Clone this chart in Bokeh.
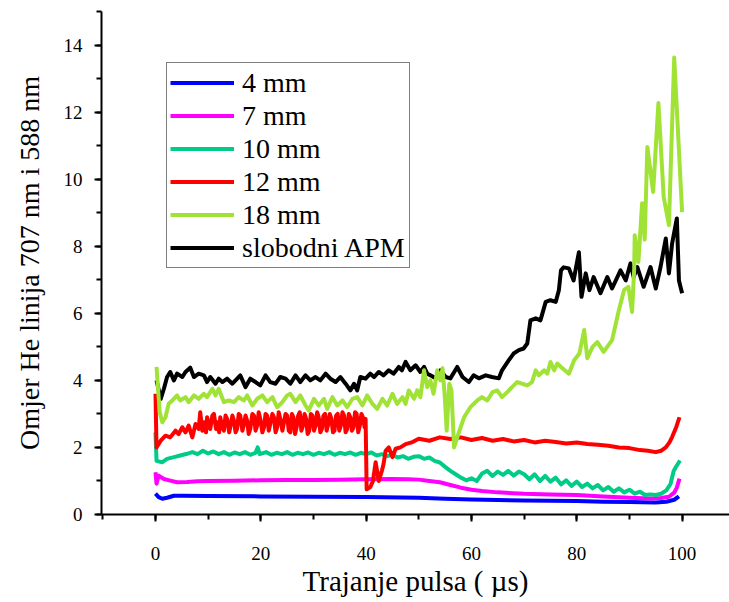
from bokeh.plotting import figure
from bokeh.models import Range1d, SingleIntervalTicker, Legend, LegendItem
from bokeh.embed import file_html
from bokeh.resources import INLINE

# ---------------- data ----------------
x_4mm = [0.0, 0.6, 1.3, 2.2, 3.5, 5, 10, 20, 30, 40, 50, 55, 60, 65, 70, 75, 80, 85, 90, 95, 97, 98.5, 99.4]
y_4mm = [0.62, 0.52, 0.47, 0.5, 0.56, 0.56, 0.55, 0.54, 0.53, 0.52, 0.5, 0.47, 0.45, 0.43, 0.42, 0.41, 0.4, 0.38,
         0.37, 0.36, 0.38, 0.44, 0.54]

x_7mm = [0.0, 0.2, 0.6, 1.6, 2.8, 4.1, 6, 8, 10, 15, 20, 25, 30, 35, 40, 45, 48, 50, 52, 54, 56, 58, 60, 62, 65, 70,
         75, 80, 85, 90, 94, 96, 97.5, 98.5, 99.0, 99.5]
y_7mm = [1.26, 0.92, 1.16, 1.06, 1.01, 0.96, 0.97, 0.99, 1.0, 1.01, 1.02, 1.03, 1.03, 1.04, 1.05, 1.06, 1.05, 1.04,
         1.0, 0.96, 0.88, 0.8, 0.74, 0.7, 0.66, 0.62, 0.6, 0.58, 0.54, 0.5, 0.48, 0.49, 0.53, 0.65, 0.8, 1.07]

x_10mm = [0.0, 0.2, 1.3, 2.2, 3.5, 4.7, 6.0, 7.0, 8.0, 9.0, 10.0, 11.0, 12.0, 13.0, 14.0, 15.0, 16.0, 17.0, 18.0,
          19.0, 19.4, 19.8, 21.0, 22.0, 23.0, 24.0, 25.0, 26.0, 27.0, 28.0, 29.0, 30.0, 31.0, 32.0, 33.0, 34.0,
          35.0, 36.0, 37.0, 38.0, 39.0, 40.0, 41.0, 42.0, 43.0, 44.0, 45.0, 46.0, 47.0, 48.0, 49.0,
          50, 51, 52, 53, 54, 55, 56, 57, 58, 59, 60, 61, 62, 63, 64, 65, 66, 67, 68, 69, 70, 71, 72, 73, 74, 75,
          76, 77, 78, 79, 80, 81, 82, 83, 84, 85, 86, 87, 88, 89, 90, 91, 92, 93, 94, 95, 96, 97, 97.8, 98.4,
          98.8, 99.6]
y_10mm = [2.45, 1.6, 1.56, 1.66, 1.71, 1.76, 1.81, 1.86, 1.8, 1.9, 1.82, 1.88, 1.8, 1.86, 1.78, 1.85, 1.8, 1.86,
          1.78, 1.84, 2.0, 1.8, 1.86, 1.78, 1.84, 1.8, 1.86, 1.78, 1.84, 1.8, 1.85, 1.78, 1.84, 1.8, 1.86, 1.78,
          1.84, 1.8, 1.85, 1.78, 1.84, 1.8, 1.85, 1.76, 1.8, 1.74, 1.78, 1.7, 1.74, 1.66, 1.72,
          1.74, 1.66, 1.7, 1.6, 1.55, 1.42, 1.3, 1.2, 1.1, 1.02, 1.08, 1.0, 1.22, 1.3, 1.15, 1.28, 1.18, 1.3,
          1.16, 1.28, 1.2, 1.05, 1.2, 1.0, 1.15, 0.98, 1.1, 0.9, 1.02, 0.85, 0.98, 0.82, 0.92, 0.78, 0.88, 0.72,
          0.82, 0.68, 0.78, 0.66, 0.74, 0.62, 0.68, 0.58, 0.6, 0.58, 0.62, 0.72, 0.91, 1.3, 1.41, 1.61]

x_12mm = [0.0, 0.2, 1.0, 1.9, 2.8, 3.8, 4.4, 5.1, 5.7, 6.3, 7.0, 7.6,
          8.2, 8.5, 8.9, 9.2, 9.6, 9.8, 10.2, 10.4, 10.8, 11.1, 11.5, 11.7, 12.1, 12.3, 12.7, 13.0, 13.3, 13.6,
          14.0, 14.2, 14.6, 14.9, 15.2, 15.5, 15.8, 16.1, 16.5, 16.8, 17.1, 17.4, 17.7, 18.0, 18.4, 18.7, 19.0,
          19.3, 19.6, 19.9, 20.3, 20.6, 20.9, 21.2, 21.5, 21.8, 22.2, 22.5, 22.8, 23.1, 23.4, 23.7, 24.1, 24.4,
          24.7, 25.0, 25.3, 25.6, 25.9, 26.2, 26.5, 26.8, 27.1, 27.4, 27.7, 28.0, 28.3, 28.6, 28.9, 29.2, 29.5,
          29.8, 30.1, 30.4, 30.7, 31.0, 31.3, 31.6, 31.9, 32.2, 32.5, 32.8, 33.1, 33.4, 33.7, 34.0, 34.3, 34.6,
          34.9, 35.2, 35.5, 35.8, 36.1, 36.4, 36.7, 37.0, 37.3, 37.6, 37.9, 38.2, 38.5, 38.8, 39.1, 39.4, 39.7,
          39.9,
          40.1, 40.8, 41.3, 41.8, 42.4, 43.0, 43.3, 43.7, 44.3, 45.0, 45.6, 46.5, 47.5, 48.8, 50.0, 52.0, 54.0,
          56.0, 58.0, 60.0, 62.0, 64.0, 66.0, 68.0, 70.0, 72.0, 74.0, 76.0, 78.0, 80.0, 82.0, 84.0, 86.0, 88.0,
          90.0, 92.0, 93.5, 95.0, 96.0, 96.9, 97.6, 98.1, 98.9, 99.5]
y_12mm = [3.6, 2.0, 2.2, 2.35, 2.3, 2.5, 2.4, 2.6, 2.45, 2.65, 2.3, 2.7,
          2.55, 3.05, 2.5, 2.75, 2.45, 2.9, 2.6, 2.55, 2.95, 3.0, 2.55, 2.75, 2.45, 2.9, 2.6, 2.5, 2.95, 2.85,
          2.45, 2.6, 2.95, 2.8, 2.45, 2.55, 3.0, 2.95, 2.5, 2.7, 2.95, 2.8, 2.4, 2.55, 3.0, 2.95, 2.5,
          2.65, 3.05, 2.85, 2.45, 2.6, 3.0, 2.95, 2.5, 2.7, 3.0, 2.9, 2.45, 2.6, 3.05, 2.85, 2.5, 2.75,
          3.0, 2.95, 2.5, 2.45, 3.0, 2.9, 2.4, 2.6, 2.95, 3.05, 2.5, 2.65, 3.0, 2.85, 2.4, 2.5, 3.0,
          2.95, 2.5, 2.65, 3.05, 2.9, 2.45, 2.55, 2.95, 3.0, 2.5, 2.7, 3.0, 2.85, 2.45, 2.5, 2.95, 3.0,
          2.5, 2.65, 3.05, 2.95, 2.45, 2.55, 3.0, 2.9, 2.5, 2.6, 3.05, 3.0, 2.45, 2.65, 3.0, 2.9, 2.6,
          2.85,
          0.75, 0.82, 1.0, 1.56, 1.0, 1.31, 1.5, 1.9, 2.0, 1.71, 1.96, 2.0, 2.1, 2.16, 2.26, 2.2, 2.3,
          2.25, 2.3, 2.22, 2.28, 2.2, 2.25, 2.18, 2.22, 2.15, 2.2, 2.16, 2.12, 2.15, 2.1, 2.08, 2.05, 2.0,
          1.98, 1.92, 1.9, 1.86, 1.9, 2.0, 2.15, 2.31, 2.61, 2.9]

x_18mm = [0.2, 0.8, 1.3, 1.9, 2.5, 3.2, 4.1, 4.7, 5.7, 6.3, 7.3, 8.2, 9.2, 9.8, 10.8, 11.4, 12.0, 13.0, 13.9, 14.9,
          15.8, 16.8, 17.4, 18.4, 19.3, 20.3, 21.2, 22.2, 23.1, 24.1, 25.0, 25.6, 26.6, 27.5, 28.5, 29.1, 30.1,
          31.0, 32.0, 32.6, 33.6, 34.5, 35.5, 36.4, 37.4, 38.3, 39.3, 40.2, 41.2, 42.1, 43.1, 44.0, 45.0, 45.9,
          46.9, 47.5, 48.1, 49.1, 49.7, 50.3, 51.0, 51.6, 52.2, 52.8, 53.5, 54.1, 54.5, 54.9, 55.3, 55.8, 56.2,
          56.7, 57.3, 58.6, 59.8, 61.1, 62.0, 63.0, 64.0, 64.9, 65.8, 66.8, 67.7, 68.7, 69.6, 70.6, 71.5, 72.2,
          72.8, 73.8, 74.4, 75.0, 75.7, 76.3, 77.0, 78.5, 79.5, 80.5, 81.4, 82.0, 83.0, 83.9, 85.1, 86.7, 88.0,
          89.0, 89.8, 90.5, 90.9, 91.0, 91.7, 92.4, 92.9, 93.4, 94.5, 95.5, 96.5, 97.5, 98.5, 100.0]
y_18mm = [4.4, 3.05, 2.75, 2.9, 3.3, 3.4, 3.55, 3.4, 3.5, 3.35, 3.55, 3.45, 3.6, 3.5, 3.75, 3.55, 3.75, 3.35, 3.4,
          3.35, 3.5, 3.4, 3.55, 3.25, 3.45, 3.55, 3.35, 3.5, 3.2, 3.35, 3.55, 3.6, 3.35, 3.55, 3.25, 3.1, 3.45,
          3.25, 3.45, 3.15, 3.5, 3.25, 3.4, 3.2, 3.45, 3.5, 3.25, 3.55, 3.3, 3.15, 3.45, 3.25, 3.6, 3.3, 3.5, 3.3,
          3.7, 3.45, 3.7, 3.5, 4.3, 3.8, 4.0, 3.6, 4.3, 4.0, 4.36, 3.6, 2.5, 3.9, 3.7, 2.0, 2.3, 2.9, 3.2, 3.4,
          3.5, 3.4, 3.65, 3.7, 3.5, 3.65, 3.8, 3.95, 3.9, 3.85, 3.95, 4.3, 4.15, 4.3, 4.2, 4.55, 4.3, 4.5, 4.4,
          4.2, 4.6, 4.8, 5.5, 4.66, 5.0, 5.14, 4.85, 5.2, 6.1, 6.7, 6.79, 6.04, 7.3, 8.33, 7.53, 9.28, 8.2, 10.96,
          9.62, 12.27, 9.47, 8.63, 13.63, 9.02]

x_apm = [0.2, 1.0, 1.6, 2.2, 2.8, 3.5, 4.1, 5.1, 5.7, 6.6, 7.3, 8.2, 9.2, 9.8, 10.4, 11.4, 12.0, 12.7, 13.6, 14.6,
         15.2, 16.1, 17.1, 18.0, 19.0, 19.9, 20.9, 21.8, 22.8, 23.7, 24.7, 25.6, 26.6, 27.5, 28.5, 29.4, 30.4,
         31.3, 32.3, 33.2, 34.2, 35.1, 36.1, 37.0, 37.7, 38.3, 38.9, 39.9, 40.8, 41.5, 42.4, 43.3, 44.3, 45.2,
         46.2, 46.8, 47.5, 48.4, 49.4, 50.3, 51.0, 51.6, 52.2, 53.2, 54.1, 55.1, 56.0, 57.3, 58.3, 59.5, 60.4,
         61.4, 62.7, 63.9, 65.2, 65.8, 67.1, 68.0, 69.0, 69.9, 70.6, 71.2, 72.2, 73.1, 74.1, 75.0, 76.0, 76.6,
         77.0, 77.5, 78.5, 79.4, 80.4, 80.9, 81.7, 82.4, 83.2, 84.5, 85.8, 86.7, 88.3, 89.3, 90.2, 90.8, 91.5,
         92.7, 94.0, 95.0, 95.9, 96.9, 97.5, 98.1, 99.0, 99.4, 100.0]
y_apm = [4.0, 3.45, 3.75, 4.1, 4.25, 4.0, 4.2, 4.1, 4.25, 4.38, 4.1, 4.2, 4.15, 3.95, 4.1, 3.9, 4.05, 3.95, 4.05,
         3.9, 4.0, 4.15, 3.8, 4.05, 3.95, 3.85, 4.15, 3.95, 3.9, 4.1, 4.05, 3.9, 4.15, 3.95, 4.15, 4.0, 4.1, 4.0,
         4.2, 4.05, 3.95, 4.1, 3.9, 3.7, 3.9, 3.7, 4.1, 4.05, 4.2, 4.1, 4.25, 4.15, 4.3, 4.2, 4.4, 4.3, 4.55, 4.3,
         4.45, 4.25, 4.4, 4.2, 4.15, 4.06, 4.3, 4.1, 4.06, 4.4, 4.1, 3.95, 4.15, 4.06, 4.15, 4.1, 4.06, 4.3, 4.6,
         4.8, 4.9, 4.95, 5.1, 5.79, 5.85, 5.79, 6.34, 6.39, 6.34, 6.69, 7.28, 7.37, 7.34, 6.98, 7.82, 6.49, 7.19,
         6.69, 7.08, 6.6, 7.08, 6.74, 7.28, 6.98, 7.49, 7.08, 7.38, 6.79, 7.38, 6.74, 7.38, 8.23, 7.19, 8.08,
         8.83, 6.98, 6.6]

series_labels = ["4 mm", "7 mm", "10 mm", "12 mm", "18 mm", "slobodni APM"]
series_colors = ["#0000FF", "#FF00FF", "#00CC88", "#FF0000", "#A0E236", "#000000"]

x_ticks_interval = 20
y_ticks_interval = 2

# ---------------- figure ----------------
FONT = "Liberation Serif"

p = figure(width=729, height=602, output_backend="svg", toolbar_location=None,
           x_range=Range1d(-10.25, 109.0), y_range=Range1d(0, 15),
           min_border_left=101, min_border_right=0, min_border_top=11, min_border_bottom=88)
p.outline_line_color = None
p.grid.visible = False
p.background_fill_color = "white"
p.border_fill_color = "white"

p.xaxis.ticker = SingleIntervalTicker(interval=x_ticks_interval, num_minor_ticks=2)
p.yaxis.ticker = SingleIntervalTicker(interval=y_ticks_interval, num_minor_ticks=2)

for ax in (p.xaxis[0], p.yaxis[0]):
    ax.axis_line_width = 2
    ax.axis_line_color = "black"
    ax.major_tick_line_width = 2
    ax.minor_tick_line_width = 2
    ax.major_tick_out = 7
    ax.major_tick_in = 0
    ax.minor_tick_out = 5
    ax.minor_tick_in = 0
    ax.major_label_text_font = FONT
    ax.major_label_text_font_size = "19px"
    ax.major_label_text_color = "black"
    ax.axis_label_text_font = FONT
    ax.axis_label_text_font_style = "normal"
    ax.axis_label_text_color = "black"

p.xaxis.axis_label = "Trajanje pulsa ( \u00b5s)"
p.yaxis.axis_label = "Omjer He linija 707 nm i 588 nm"
p.xaxis.axis_label_text_font_size = "29px"
p.yaxis.axis_label_text_font_size = "28px"
p.xaxis.major_label_standoff = 25
p.xaxis.axis_label_standoff = 2
p.yaxis.major_label_standoff = 12
p.yaxis.axis_label_standoff = 16

xs = [x_4mm, x_7mm, x_10mm, x_12mm, x_18mm, x_apm]
ys = [y_4mm, y_7mm, y_10mm, y_12mm, y_18mm, y_apm]
draw_order = [0, 1, 2, 3, 5, 4]
renderers = {}
for i in draw_order:
    renderers[i] = p.line(xs[i], ys[i], line_color=series_colors[i], line_width=4, line_join="round")

items = [LegendItem(label=series_labels[i], renderers=[renderers[i]]) for i in range(6)]
legend = Legend(items=items, location=(65, 246))
legend.margin = 0
legend.padding = 3
legend.spacing = 0
legend.glyph_width = 64
legend.glyph_height = 33
legend.label_height = 33
legend.label_width = 164
legend.label_standoff = 8
legend.label_text_font = FONT
legend.label_text_font_size = "28px"
legend.label_text_color = "black"
legend.border_line_color = "black"
legend.border_line_width = 1
legend.background_fill_color = "white"
legend.background_fill_alpha = 1.0
p.add_layout(legend, "center")

open("out.html", "w").write(file_html(p, INLINE))
